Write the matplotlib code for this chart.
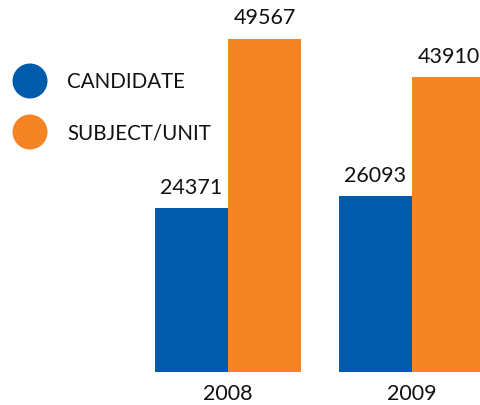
import matplotlib
matplotlib.use("Agg")
import matplotlib.pyplot as plt
from matplotlib.patches import Ellipse
import numpy as np

years = ["2008", "2009"]
series_names = ["CANDIDATE", "SUBJECT/UNIT"]
candidate = [24371, 26093]
subject_unit = [49567, 43910]
colors = ["#005BAA", "#F58424"]

W, H = 480, 406
fig = plt.figure(figsize=(W / 100, H / 100), dpi=100)
plt.rcParams['font.family'] = ['Lato', 'DejaVu Sans']

base_px = 33.3  # from bottom
ax = fig.add_axes([0, base_px / H, 1, 1 - base_px / H])
ax.set_axis_off()
spacing = 184.0
center0 = 228.0
ax.set_xlim(-center0 / spacing, (W - center0) / spacing)
ax.set_ylim(0, (H - base_px) / 0.00672)

x = np.arange(len(years))
bw = 73 / spacing
for i, (vals, c) in enumerate(zip([candidate, subject_unit], colors)):
    offs = (i - 0.5) * bw
    bars = ax.bar(x + offs, vals, width=bw, color=c, linewidth=0)
    for xi, v in zip(x, vals):
        ax.annotate(f"{v}", (xi + offs, v), xytext=(0, 8), textcoords="offset points",
                    ha="center", va="bottom", fontsize=15.5, color="#111111")

for xi, y in zip(x, years):
    ax.annotate(y, (xi, 0), xytext=(0, -19.3), textcoords="offset points",
                ha="center", va="baseline", fontsize=15.5, color="#111111")

# legend
leg_y = [82, 133]
for name, c, yy in zip(series_names, colors, leg_y):
    fig.patches.append(Ellipse((30 / W, 1 - yy / H), 35 / W, 35 / H,
                               transform=fig.transFigure, color=c, linewidth=0))
    fig.text(67 / W, 1 - yy / H, name, ha="left", va="center", fontsize=14.8,
             color="#111111")

fig.savefig("out.png", dpi=100)
